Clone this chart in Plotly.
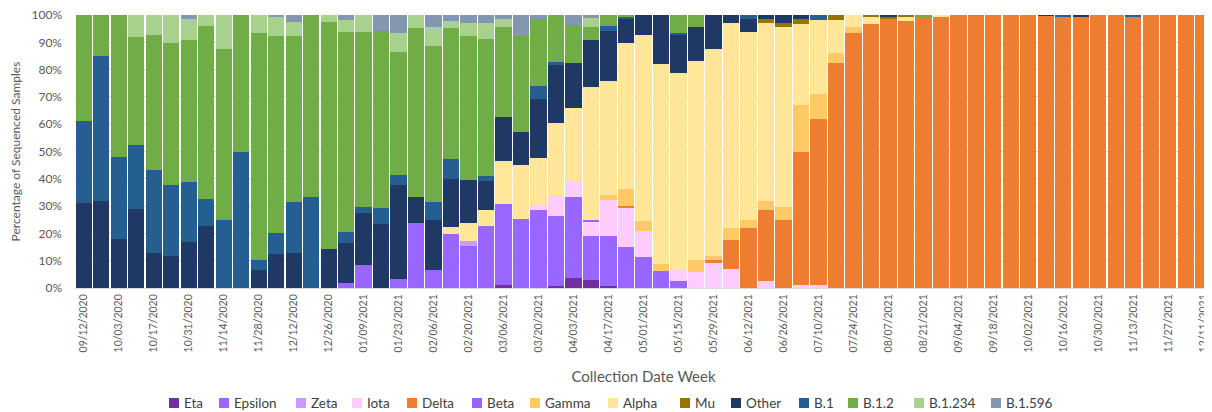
import plotly.graph_objects as go

# ---- categories (collection date week) ----
weeks = [
    "09/12/2020", "09/19/2020", "10/03/2020", "10/10/2020", "10/17/2020", "10/24/2020", "10/31/2020",
    "11/07/2020", "11/14/2020", "11/21/2020", "11/28/2020", "12/05/2020", "12/12/2020", "12/19/2020",
    "12/26/2020", "01/02/2021", "01/09/2021", "01/16/2021", "01/23/2021", "01/30/2021", "02/06/2021",
    "02/13/2021", "02/20/2021", "02/27/2021", "03/06/2021", "03/13/2021", "03/20/2021", "03/27/2021",
    "04/03/2021", "04/10/2021", "04/17/2021", "04/24/2021", "05/01/2021", "05/08/2021", "05/15/2021",
    "05/22/2021", "05/29/2021", "06/05/2021", "06/12/2021", "06/19/2021", "06/26/2021", "07/03/2021",
    "07/10/2021", "07/17/2021", "07/24/2021", "07/31/2021", "08/07/2021", "08/14/2021", "08/21/2021",
    "08/28/2021", "09/04/2021", "09/11/2021", "09/18/2021", "09/25/2021", "10/02/2021", "10/09/2021",
    "10/16/2021", "10/23/2021", "10/30/2021", "11/06/2021", "11/13/2021", "11/20/2021", "11/27/2021",
    "12/04/2021", "12/11/2021",
]
tick_labels = weeks[::2]

# ---- series values (% of sequenced samples), 65 weeks each ----
eta = [
    0, 0, 0, 0, 0, 0, 0, 0, 0, 0,
    0, 0, 0, 0, 0, 0, 0, 0, 0, 0,
    0, 0, 0, 0, 1.0, 0, 0, 0.6, 3.7, 3.0,
    0.6, 0, 0, 0, 0, 0, 0, 0, 0, 0,
    0, 0, 0, 0, 0, 0, 0, 0, 0, 0,
    0, 0, 0, 0, 0, 0, 0, 0, 0, 0,
    0, 0, 0, 0, 0,
]
epsilon = [
    0, 0, 0, 0, 0, 0, 0, 0, 0, 0,
    0, 0, 0, 0, 0, 1.8, 8.3, 0, 3.3, 23.8,
    6.5, 19.8, 15.5, 22.6, 29.9, 25.2, 28.4, 25.9, 29.8, 15.9,
    18.3, 15.0, 11.3, 6.1, 2.4, 0, 0, 0, 0, 0,
    0, 0, 0, 0, 0, 0, 0, 0, 0, 0,
    0, 0, 0, 0, 0, 0, 0, 0, 0, 0,
    0, 0, 0, 0, 0,
]
zeta = [
    0, 0, 0, 0, 0, 0, 0, 0, 0, 0,
    0, 0, 0, 0, 0, 0, 0, 0, 0, 0,
    0, 0, 1.7, 0, 0, 0, 0, 0, 0, 0,
    0, 0, 0, 0, 0, 0, 0, 0, 0, 0,
    0, 0, 0, 0, 0, 0, 0, 0, 0, 0,
    0, 0, 0, 0, 0, 0, 0, 0, 0, 0,
    0, 0, 0, 0, 0,
]
iota = [
    0, 0, 0, 0, 0, 0, 0, 0, 0, 0,
    0, 0, 0, 0, 0, 0, 0, 0, 0, 0,
    0, 0, 0, 0, 0, 0, 1.7, 7.6, 5.5, 5.1,
    13.4, 14.6, 9.4, 0, 4.6, 5.7, 9.1, 7.0, 0, 2.7,
    0, 1.2, 1.2, 0, 0, 0, 0, 0, 0, 0,
    0, 0, 0, 0, 0, 0, 0, 0, 0, 0,
    0, 0, 0, 0, 0,
]
delta = [
    0, 0, 0, 0, 0, 0, 0, 0, 0, 0,
    0, 0, 0, 0, 0, 0, 0, 0, 0, 0,
    0, 0, 0, 0, 0, 0, 0, 0, 0, 0,
    0, 0.6, 0, 0, 0, 0, 1.3, 10.7, 21.8, 26.0,
    25.0, 48.8, 60.6, 82.3, 93.3, 96.7, 98.8, 97.9, 99.6, 99.2,
    100, 99.7, 100, 100, 100, 99.7, 99.5, 99.4, 100, 100,
    99.5, 100, 100, 100, 100,
]
beta = [
    0, 0, 0, 0, 0, 0, 0, 0, 0, 0,
    0, 0, 0, 0, 0, 0, 0, 0, 0, 0,
    0, 0, 0, 0, 0, 0, 0, 0, 0, 1.0,
    0, 0, 0, 0, 0, 0, 0, 0, 0, 0,
    0, 0, 0, 0, 0, 0, 0, 0, 0, 0,
    0, 0, 0, 0, 0, 0, 0, 0, 0, 0,
    0, 0, 0, 0, 0,
]
gamma = [
    0, 0, 0, 0, 0, 0, 0, 0, 0, 0,
    0, 0, 0, 0, 0, 0, 0, 0, 0, 0,
    0, 0, 0, 0, 0, 0, 0, 0, 0, 0,
    1.8, 6.1, 3.9, 2.7, 0, 4.7, 1.4, 4.1, 3.2, 3.3,
    4.6, 17.1, 9.1, 3.9, 2.4, 0, 0, 0, 0, 0,
    0, 0, 0, 0, 0, 0, 0, 0, 0, 0,
    0, 0, 0, 0, 0,
]
alpha = [
    0, 0, 0, 0, 0, 0, 0, 0, 0, 0,
    0, 0, 0, 0, 0, 0, 0, 0, 0, 0,
    0, 2.4, 6.6, 6.1, 15.7, 20.0, 17.7, 26.3, 26.9, 48.5,
    41.8, 53.3, 68.1, 73.3, 71.7, 72.8, 75.6, 75.4, 68.7, 65.2,
    66.1, 29.6, 27.3, 12.0, 4.3, 2.9, 0, 1.7, 0, 0.8,
    0, 0, 0, 0, 0, 0, 0, 0, 0, 0,
    0, 0, 0, 0, 0,
]
mu = [
    0, 0, 0, 0, 0, 0, 0, 0, 0, 0,
    0, 0, 0, 0, 0, 0, 0, 0, 0, 0,
    0, 0, 0, 0, 0, 0, 0, 0, 0, 0,
    0, 0, 0, 0, 0, 0, 0, 0, 0, 1.3,
    1.5, 1.8, 0, 1.8, 0, 0.4, 0.6, 0.4, 0, 0,
    0, 0, 0, 0, 0, 0, 0, 0, 0, 0,
    0, 0, 0, 0, 0,
]
other = [
    31.0, 32.0, 18.0, 29.0, 13.0, 11.6, 16.8, 22.8, 0, 0,
    6.5, 12.4, 13.0, 0, 14.3, 14.7, 19.1, 23.4, 34.5, 9.5,
    18.5, 17.8, 15.8, 10.6, 16.0, 11.8, 21.5, 21.3, 16.4, 17.4,
    18.2, 8.9, 7.3, 17.9, 14.0, 12.5, 12.6, 2.8, 4.8, 1.5,
    2.8, 1.5, 0, 0, 0, 0, 0.6, 0, 0, 0,
    0, 0, 0, 0, 0, 0.3, 0, 0.6, 0, 0,
    0, 0, 0, 0, 0,
]
b1 = [
    30.0, 53.0, 30.0, 23.5, 30.3, 26.0, 22.2, 9.9, 25.0, 50.0,
    3.6, 7.7, 18.6, 33.3, 0, 4.0, 2.2, 5.9, 3.7, 0,
    6.6, 7.3, 0, 1.8, 0, 0, 4.8, 1.2, 0, 0,
    1.9, 0.9, 0, 0, 0.8, 0, 0, 0, 1.5, 0,
    0, 0, 1.8, 0, 0, 0, 0, 0, 0, 0,
    0, 0, 0, 0, 0, 0, 0.5, 0, 0, 0,
    0.5, 0, 0, 0, 0,
]
b12 = [
    39.0, 15.0, 52.0, 39.3, 49.4, 52.3, 51.9, 63.4, 62.4, 50.0,
    83.4, 72.2, 60.7, 66.7, 83.1, 73.3, 64.2, 64.8, 44.8, 61.8,
    57.1, 47.9, 52.7, 50.1, 33.1, 35.4, 24.3, 17.1, 14.0, 4.8,
    4.0, 0.6, 0, 0, 6.5, 4.3, 0, 0, 0, 0,
    0, 0, 0, 0, 0, 0, 0, 0, 0.4, 0,
    0, 0.3, 0, 0, 0, 0, 0, 0, 0, 0,
    0, 0, 0, 0, 0,
]
b1234 = [
    0, 0, 0, 8.2, 7.3, 10.1, 7.6, 3.9, 12.6, 0,
    6.5, 6.8, 5.0, 0, 2.6, 4.4, 6.2, 0, 7.0, 4.9,
    7.0, 2.5, 4.9, 5.7, 2.8, 0, 0, 0, 0, 3.1,
    0, 0, 0, 0, 0, 0, 0, 0, 0, 0,
    0, 0, 0, 0, 0, 0, 0, 0, 0, 0,
    0, 0, 0, 0, 0, 0, 0, 0, 0, 0,
    0, 0, 0, 0, 0,
]
b1596 = [
    0, 0, 0, 0, 0, 0, 1.5, 0, 0, 0,
    0, 0.9, 2.7, 0, 0, 1.8, 0, 5.9, 6.7, 0,
    4.3, 2.3, 2.8, 3.1, 1.5, 7.6, 1.6, 0, 3.7, 1.2,
    0, 0, 0, 0, 0, 0, 0, 0, 0, 0,
    0, 0, 0, 0, 0, 0, 0, 0, 0, 0,
    0, 0, 0, 0, 0, 0, 0, 0, 0, 0,
    0, 0, 0, 0, 0,
]

series_names = ["Eta", "Epsilon", "Zeta", "Iota", "Delta", "Beta", "Gamma", "Alpha",
                "Mu", "Other", "B.1", "B.1.2", "B.1.234", "B.1.596"]
series_values = [eta, epsilon, zeta, iota, delta, beta, gamma, alpha,
                 mu, other, b1, b12, b1234, b1596]
series_colors = ["#7030A0", "#9966FF", "#CC99FF", "#FFCCFF", "#ED7D31", "#9A63FF",
                 "#FFC965", "#FFE699", "#997300", "#203864", "#255E91", "#70AD47",
                 "#A9D18E", "#8497B0"]

# ---- layout geometry (pixels) ----
# The page body adds an 8px margin, so the figure is drawn 8px smaller
# and all target positions are expressed relative to that offset.
OFF = 8
W, H = 1212 - OFF, 412 - OFF
ML, MR, MT, MB = 75 - OFF, 0, 15 - OFF, 412 - 288
PW, PH = W - ML - MR, H - MT - MB
# legend swatch left edges (target window px) in one row below the axis title
legend_swatch_x = [169, 219, 296, 352, 407, 472, 530, 608, 680, 731, 799, 848, 914, 991]
legend_y = 403
sw = 10


def px_to_paper_x(px):
    return (px - OFF - ML) / PW


def px_to_paper_y(py):
    return (H - MB - (py - OFF)) / PH


fig = go.Figure()
for name, vals, color in zip(series_names, series_values, series_colors):
    fig.add_trace(go.Bar(
        x=weeks, y=vals, name=name,
        marker=dict(color=color, line=dict(width=0)),
    ))

# legend drawn as swatches + text labels (Excel-style compact legend)
shapes = []
annotations = []
for name, color, sx in zip(series_names, series_colors, legend_swatch_x):
    shapes.append(dict(
        type="rect", xref="paper", yref="paper",
        x0=px_to_paper_x(sx), x1=px_to_paper_x(sx + sw),
        y0=px_to_paper_y(legend_y + sw / 2), y1=px_to_paper_y(legend_y - sw / 2),
        fillcolor=color, line=dict(width=0),
    ))
    annotations.append(dict(
        x=px_to_paper_x(sx + sw + 4), y=px_to_paper_y(legend_y),
        xref="paper", yref="paper", xanchor="left", yanchor="middle",
        text=name, showarrow=False, borderpad=0,
        font=dict(family="Lato, sans-serif", size=13.5, color="#404040"),
    ))

fig.update_layout(
    barmode="stack",
    bargap=0.07,
    width=W, height=H,
    margin=dict(l=ML, r=MR, t=MT, b=MB, autoexpand=False),
    plot_bgcolor="white", paper_bgcolor="white",
    font=dict(family="Lato, 'Open Sans', sans-serif", size=11, color="#595959"),
    showlegend=False,
    shapes=shapes,
    annotations=annotations,
)
fig.update_xaxes(
    type="category",
    tickmode="array", tickvals=tick_labels, ticktext=tick_labels,
    tickangle=-90,
    range=[-0.5, 64.5],
    automargin=False,
    showgrid=False, zeroline=False,
    showline=True, linecolor="#D9D9D9", linewidth=1,
    ticks="", ticklabelstandoff=1, ticklabeloverflow="allow",
    tickfont=dict(size=10.5, color="#595959"),
    title=dict(text="Collection Date Week", font=dict(size=15, color="#595959"), standoff=20),
)
fig.update_yaxes(
    range=[0, 100], dtick=10, ticksuffix="%",
    automargin=False,
    showgrid=True, gridcolor="#D9D9D9", gridwidth=1,
    zeroline=False, showline=False, ticks="", ticklabelstandoff=12,
    ticklabeloverflow="allow",
    tickfont=dict(size=12, color="#595959"),
    title=dict(text="Percentage of Sequenced Samples", font=dict(size=12, color="#595959"), standoff=17),
)

fig.write_html("out.html")
